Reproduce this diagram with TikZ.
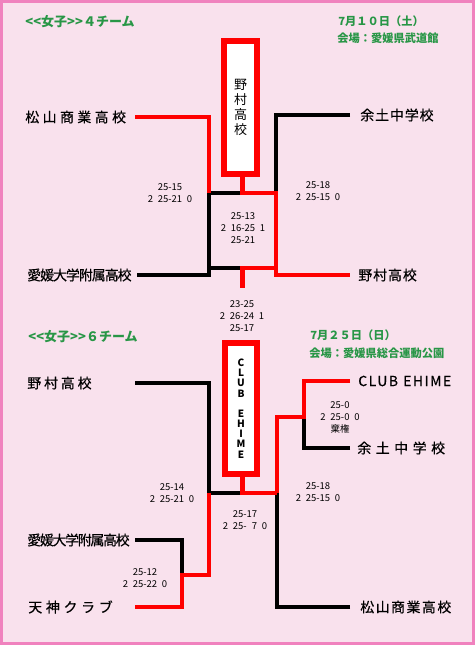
\documentclass[tikz,border=0pt]{standalone}
\usepackage{fontspec}
\newfontfamily\jp{Noto Sans CJK JP}
\usetikzlibrary{positioning}
\definecolor{bgpink}{RGB}{249,225,237}
\definecolor{edgepink}{RGB}{240,130,190}
\definecolor{titlegreen}{RGB}{40,150,70}
\newcommand\gap{\hspace{0.5em}}

\begin{document}
\begin{tikzpicture}[x=0.02cm, y=-0.02cm,
    team/.style={anchor=west, inner sep=0pt, font={\jp\fontsize{7.9}{9}\selectfont\addfontfeature{LetterSpace=#1,FakeBold=0.5}}},
    team/.default=0,
    score/.style={align=center, inner sep=0pt, font=\jp\fontsize{5.4}{6.8}\selectfont},
    head/.style={anchor=west, inner sep=0pt, text=titlegreen, font=\jp\bfseries\fontsize{7.4}{9}\selectfont},
    date/.style={anchor=west, inner sep=0pt, text=titlegreen, font=\jp\bfseries\fontsize{6.4}{8}\selectfont},
    champ/.style={draw=red, line width=3.4pt, fill=white, inner sep=0pt, align=center},
    win/.style={draw=red, line width=2.7pt},
    lose/.style={draw=black, line width=2.7pt}
]
\useasboundingbox (0,0) rectangle (475,645);

% Background
\fill[bgpink] (0,0) rectangle (475,645);
\draw[edgepink, line width=1.7pt] (1.5,1.5) rectangle (473.5,643.5);

% 4 teams
\node[head] (head1) at (25,22) {<<女子>>４チーム};
\node[date] (date1) at (338,21) {7月１０日（土）};
\node[date] (hall1) at (337,38) {会場：愛媛県武道館};

\node[team=25] (matsuyama1) at (25,117) {松山商業高校};
\node[team=-7] (fuzoku1) at (27,275) {愛媛大学附属高校};
\node[team=7] (yodo1) at (360,115) {余土中学校};
\node[team=7] (nomura1) at (358,275) {野村高校};

\node[champ, minimum width=0.66cm, minimum height=2.66cm,
      font=\jp\fontsize{7.4}{8.5}\selectfont] (champ1) at (240.5,107.5) {野\\村\\高\\校};

\node[score] (score1) at (170,193) {25-15\\2\gap25-21\gap0};
\node[score] (score2) at (318,191) {25-18\\2\gap25-15\gap0};
\node[score] (score3) at (243,228) {25-13\\2\gap16-25\gap1\\25-21};
\node[score] (score4) at (242,316) {23-25\\2\gap26-24\gap1\\25-17};

\coordinate (m1) at (135,117);
\coordinate (f1) at (137,275);
\coordinate (y1) at (350,115);
\coordinate (n1) at (350,275);
\coordinate (tl) at (209,193);
\coordinate (tm) at (242.5,193);
\coordinate (tr) at (276,193);
\coordinate (bl) at (209,268);
\coordinate (bm) at (242.5,268);
\coordinate (br) at (276,268);
\coordinate (stem1) at (242.5,288);

\draw[lose] (f1) -| (tl) -- (tm);
\draw[lose] (bl) -- (bm);
\draw[lose] (y1) -| (tr);
\draw[win] (m1) -| (tl);
\draw[win] (tm |- champ1.south) -- (tm) -- (tr) |- (n1);
\draw[win] (br) -- (bm) -- (stem1);

% 6 teams
\node[head] (head2) at (28,337) {<<女子>>６チーム};
\node[date] (date2) at (310,335) {7月２５日（日）};
\node[date] (hall2) at (309,353) {会場：愛媛県総合運動公園};

\node[team=21] (nomura2) at (27,383) {野村高校};
\node[team=-9] (fuzoku2) at (27,540) {愛媛大学附属高校};
\node[team=27] (tenjin) at (28,607) {天神クラブ};
\node[team=11] (club) at (358,381) {CLUB\hspace{3pt}EHIME};
\node[team=33] (yodo2) at (357,448) {余土中学校};
\node[team=11] (matsuyama2) at (360,607) {松山商業高校};

\node[champ, minimum width=0.64cm, minimum height=2.62cm,
      font=\jp\bfseries\fontsize{5.7}{5.8}\selectfont] (champ2) at (241,408.5)
      {C\\L\\U\\B\\[5.8pt]E\\H\\I\\M\\E};

\node[score] (score5) at (340,417) {25-0\\2\gap25-0\gap0\\棄権};
\node[score] (score6) at (172,493) {25-14\\2\gap25-21\gap0};
\node[score] (score7) at (318,492) {25-18\\2\gap25-15\gap0};
\node[score] (score8) at (245,520) {25-17\\2\gap25-\phantom{1}7\gap0};
\node[score] (score9) at (145,578) {25-12\\2\gap25-22\gap0};

\coordinate (n2) at (135,383);
\coordinate (f2) at (135,540);
\coordinate (t2) at (135,607);
\coordinate (c2) at (350,381);
\coordinate (y2) at (350,448);
\coordinate (m2) at (350,607);
\coordinate (bl2) at (209,493);
\coordinate (bm2) at (242.5,493);
\coordinate (br2) at (277,493);
\coordinate (lj) at (209,575);
\coordinate (lk) at (182,575);
\coordinate (rj) at (304,417);
\coordinate (rk) at (277,417);

\draw[lose] (n2) -| (bl2) -- (bm2);
\draw[lose] (f2) -| (lk);
\draw[lose] (y2) -| (rj);
\draw[lose] (m2) -| (br2);
\draw[win] (t2) -| (lk) -- (lj) -- (bl2);
\draw[win] (c2) -| (rj) -- (rk) -- (br2);
\draw[win] (bm2 |- champ2.south) -- (bm2) -- (br2);

\end{tikzpicture}
\end{document}
